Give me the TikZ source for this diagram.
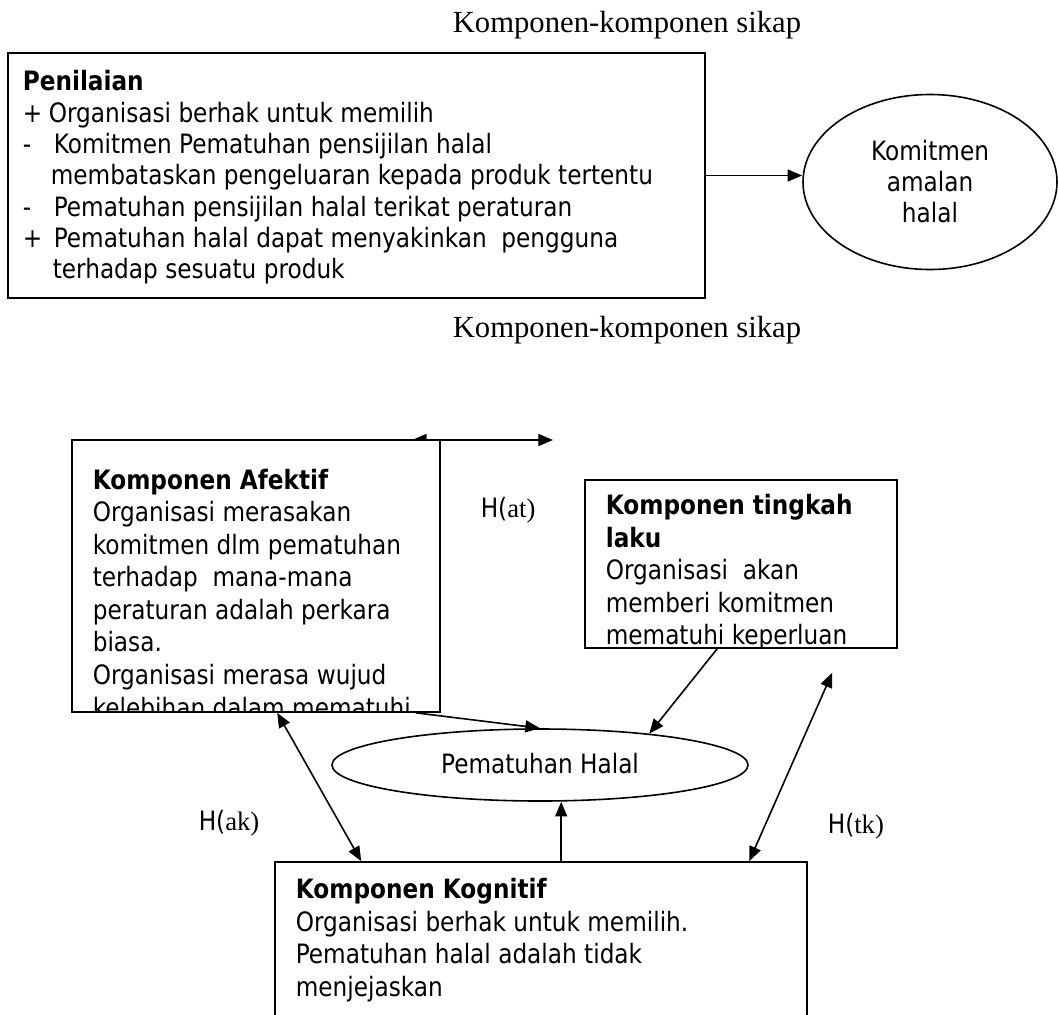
\documentclass[tikz,border=0pt]{standalone}
\usepackage{fontspec}
\setmainfont{Liberation Serif}
\newfontfamily\tah[FakeStretch=0.87]{DejaVu Sans}
\usetikzlibrary{arrows.meta,shapes.geometric,fit,calc}
\newdimen\pxu \pxu=0.75pt
\newcommand\bodyf{\tah\fontsize{20pt}{24.4pt}\selectfont}
\newcommand\penf{\tah\fontsize{20pt}{23.5pt}\selectfont}
\newcommand\titf{\rmfamily\fontsize{23pt}{26pt}\selectfont}
\newcommand\hf{\fontsize{20pt}{22pt}\selectfont}
\begin{document}
\begin{tikzpicture}[x=0.75pt,y=-0.75pt, line width=1.2pt,
  box/.style={draw, inner sep=0pt, fill=white},
  oval/.style={draw, ellipse, inner sep=0pt, fill=white},
  txt/.style={inner sep=0pt, align=left, font=\bodyf, anchor=north west},
  arr/.style={-{Triangle[length=11pt,width=9pt]}},
  darr/.style={{Triangle[length=11pt,width=9pt]}-{Triangle[length=11pt,width=9pt]}},
  ttl/.style={font=\titf, inner sep=0pt, anchor=base},
  hlab/.style={font=\hf, inner sep=0pt, anchor=base west}]
\useasboundingbox (0,0) rectangle (1058,1015);
\fill[white] (0,0) rectangle (1058,1015);

% ---------- upper diagram ----------
\node[ttl] (t1) at (627,32) {Komponen-komponen sikap};
\node[box, fit={(8,53) (705,298)}] (pen) {};
\node[txt, font=\penf] (pentxt) at (22,69.7) {\textbf{Penilaian}\\
\makebox[26\pxu][l]{+}Organisasi berhak untuk memilih\\
\makebox[31\pxu][l]{-}Komitmen Pematuhan pensijilan halal\\
\hspace*{28\pxu}membataskan pengeluaran kepada produk tertentu\\
\makebox[31\pxu][l]{-}Pematuhan pensijilan halal terikat peraturan\\
\makebox[31\pxu][l]{+}Pematuhan halal dapat menyakinkan\ \ pengguna\\
\hspace*{30\pxu}terhadap sesuatu produk};
\node[oval, minimum width=190.5pt, minimum height=131.25pt, align=center,
      font=\tah\fontsize{20pt}{23.25pt}\selectfont] (kom) at (930,182) {Komitmen\\amalan\\halal};
\draw[arr] (pen.east) -- (pen.east -| kom.west);

% ---------- lower diagram ----------
\node[ttl] (t2) at (627,337) {Komponen-komponen sikap};

\coordinate (atl) at (412,440);
\coordinate (atr) at (553,440);
\draw[darr] (atl) -- (atr);

\node[box, fit={(72,440) (440,712)}] (afek) {};
\begin{scope}
\clip (afek.south west) rectangle (afek.north east);
\node[txt] (afektxt) at (92,468.2) {\textbf{Komponen Afektif}\\
Organisasi merasakan\\
komitmen dlm pematuhan\\
terhadap\ \ mana-mana\\
peraturan adalah perkara\\
biasa.\\
Organisasi merasa wujud\\
kelebihan dalam mematuhi};
\end{scope}

\node[box, fit={(585,480) (897,648)}] (ting) {};
\begin{scope}
\clip (ting.south west) rectangle (ting.north east);
\node[txt] (tingtxt) at (605,493.7) {\textbf{Komponen tingkah}\\
\textbf{laku}\\
Organisasi\ \ akan\\
memberi komitmen\\
mematuhi keperluan};
\end{scope}

\node[oval, minimum width=312pt, minimum height=54pt] (ph) at (540,765) {};
\node[font=\bodyf, inner sep=0pt, anchor=base] (phtxt) at (540,773) {Pematuhan Halal};

\node[box, fit={(275,862) (807,1030)}] (kog) {};
\node[txt] (kogtxt) at (295,877.7) {\textbf{Komponen Kognitif}\\
Organisasi berhak untuk memilih.\\
Pematuhan halal adalah tidak\\
menjejaskan};

\node[hlab] (hat) at (480,517) {\tah H(\rmfamily at)};
\node[hlab] (hak) at (198,830) {\tah H(\rmfamily ak)};
\node[hlab] (htk) at (827,833) {\tah H(\rmfamily tk)};

% connectors
\coordinate (a1) at ($(afek.south east)+(-25,0)$);
\draw[arr] (a1) -- (ph.north);
\coordinate (t1s) at ($(ting.south west)+(133,0)$);
\draw[arr] (t1s) -- (ph.16);
\coordinate (a2) at ($(afek.south west)+(206,0)$);
\coordinate (k1) at ($(kog.north west)+(87,0)$);
\draw[darr] (a2) -- (k1);
\coordinate (t2s) at ($(ting.south west)+(248,24)$);
\coordinate (k2) at ($(kog.north west)+(475,0)$);
\draw[darr] (t2s) -- (k2);
\coordinate (kup) at ($(kog.north west)+(287,0)$);
\draw[arr] (kup) -- (kup |- ph.south);
\end{tikzpicture}
\end{document}
